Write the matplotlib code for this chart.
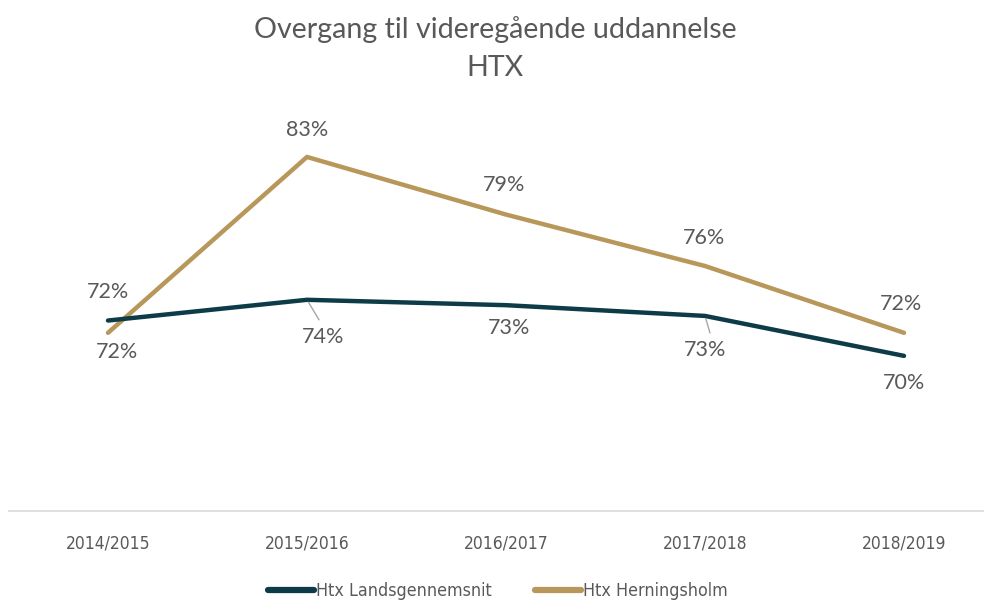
import matplotlib
matplotlib.use("Agg")
import matplotlib.pyplot as plt
from matplotlib import font_manager

categories = ["2014/2015", "2015/2016", "2016/2017", "2017/2018", "2018/2019"]
landsgennemsnit = [72.4, 73.75, 73.4, 72.7, 70.1]
herningsholm = [71.6, 83.05, 79.3, 75.95, 71.6]
series_names = ["Htx Landsgennemsnit", "Htx Herningsholm"]

dark = "#0e3b48"
gold = "#b8975a"
gray_text = "#595959"

names = {f.name for f in font_manager.fontManager.ttflist}
if "Liberation Sans Narrow" in names:
    narrow_prop = dict(family=["Liberation Sans Narrow", "DejaVu Sans"])
elif "DejaVu Sans Condensed" in names:
    narrow_prop = dict(family=["DejaVu Sans Condensed", "DejaVu Sans"])
else:
    narrow_prop = dict(family=["DejaVu Sans"], stretch="condensed")
main_font = ["Lato", "DejaVu Sans"]

fig = plt.figure(figsize=(9.84, 6.01), dpi=100)
ax = fig.add_axes([8.5 / 984, (601 - 511) / 601, 995 / 984, 384 / 601])
ax.set_xlim(-0.5, 4.5)
ax.set_ylim(60, 85)

x = list(range(len(categories)))
ax.plot(x, landsgennemsnit, color=dark, lw=3.2, solid_capstyle="round",
        solid_joinstyle="round", label=series_names[0], zorder=3)
ax.plot(x, herningsholm, color=gold, lw=3.2, solid_capstyle="round",
        solid_joinstyle="round", label=series_names[1], zorder=2)

# label offsets in pixels (dx, dy)
dark_off = [(0, 29), (16, -37), (3, -23), (0, -34), (0, -27)]
gold_off = [(9, -19), (0, 27), (-2, 30), (-1, 28), (-3, 29)]
for i, v in enumerate(landsgennemsnit):
    ax.annotate(f"{v:.0f}%", (i, v), xytext=dark_off[i], textcoords="offset pixels",
                ha="center", va="center", fontsize=15.5, color=gray_text, family=main_font)
for i, v in enumerate(herningsholm):
    ax.annotate(f"{v:.0f}%", (i, v), xytext=gold_off[i], textcoords="offset pixels",
                ha="center", va="center", fontsize=15.5, color=gray_text, family=main_font)

# leader lines
for i, (dx, dy) in [(1, (12, -20)), (3, (5, -17))]:
    ax.annotate("", (i, landsgennemsnit[i]), xytext=(dx, dy), textcoords="offset pixels",
                arrowprops=dict(arrowstyle="-", color="#a6a6a6", lw=1, shrinkA=0, shrinkB=2))

for s in ["top", "left", "right"]:
    ax.spines[s].set_visible(False)
ax.spines["bottom"].set_color("#d9d9d9")
ax.spines["bottom"].set_linewidth(1.2)
ax.set_yticks([])
ax.set_xticks(x)
ax.set_xticklabels(categories, fontsize=12.5, color=gray_text, **narrow_prop)
ax.tick_params(axis="x", length=0, pad=17)

fig.text(0.503, 1 - 30 / 601, "Overgang til videregående uddannelse", ha="center", va="center",
         fontsize=20.6, color=gray_text, family=main_font)
fig.text(0.503, 1 - 68 / 601, "HTX", ha="center", va="center",
         fontsize=20.6, color=gray_text, family=main_font)

leg_prop = font_manager.FontProperties(size=12.8, **narrow_prop)
leg = fig.legend(loc="center", bbox_to_anchor=(0.506, 1 - 591 / 601), ncol=2, frameon=False,
                 handlelength=2.6, handletextpad=0.12, columnspacing=2.4,
                 prop=leg_prop)
for t in leg.get_texts():
    t.set_color(gray_text)
for h in leg.legend_handles:
    h.set_linewidth(4.5)

fig.savefig("out.png", dpi=100)
